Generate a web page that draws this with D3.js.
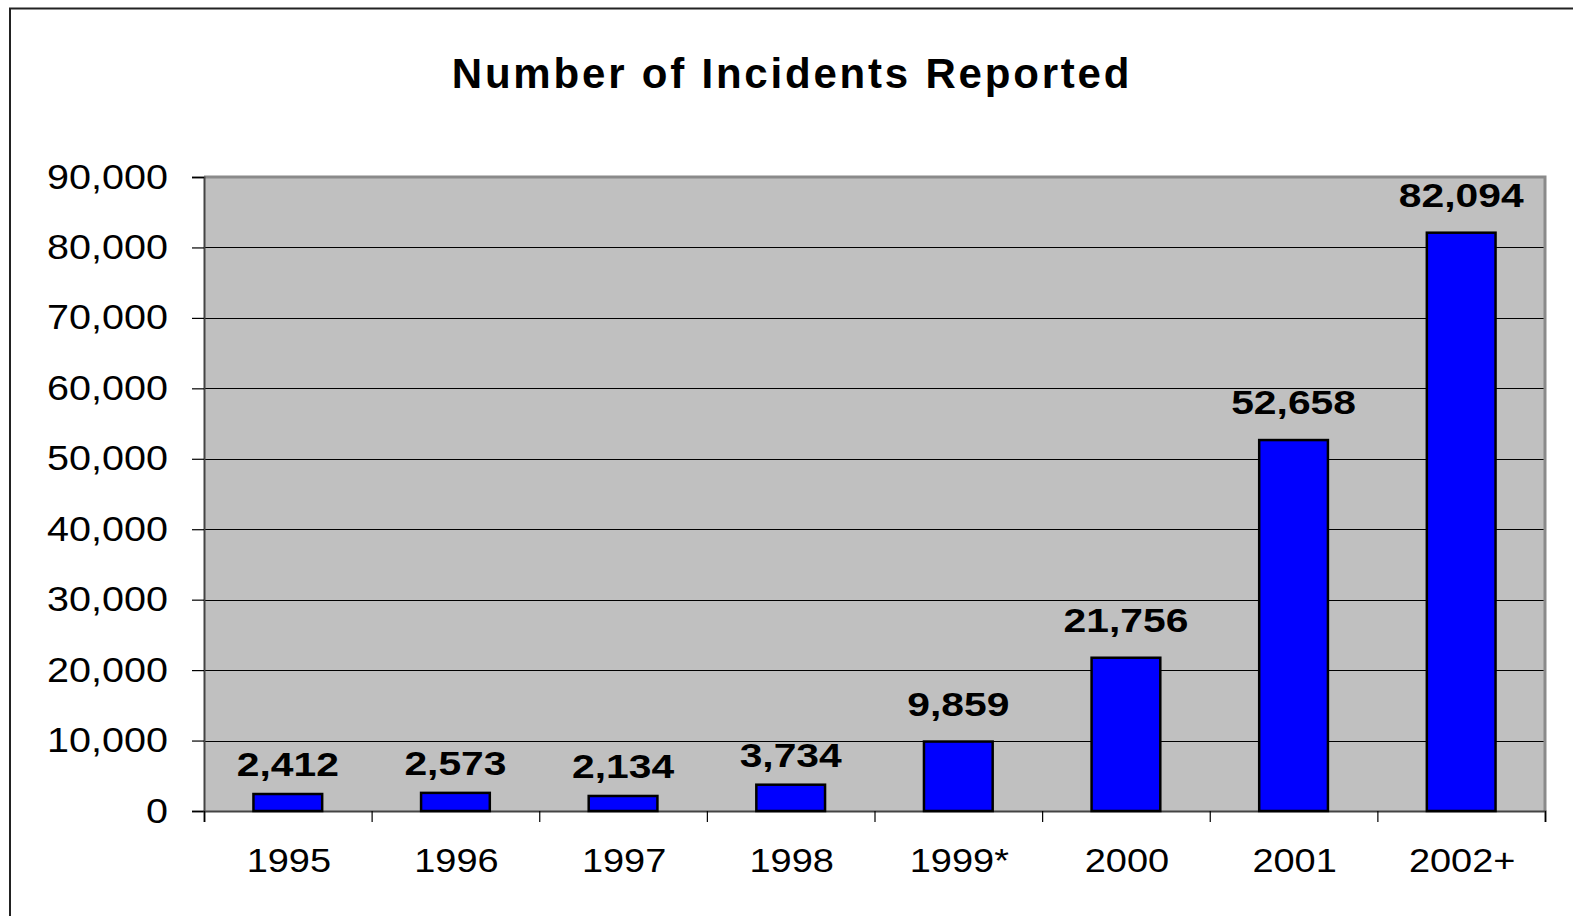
<!DOCTYPE html>
<html>
<head>
<meta charset="utf-8">
<script src="https://cdn.jsdelivr.net/npm/d3@7/dist/d3.min.js"></script>
<style>
  html, body { margin: 0; padding: 0; background: #ffffff; }
  svg { display: block; }
  text { font-family: "Liberation Sans", Arial, Helvetica, sans-serif; fill: #000; }
</style>
</head>
<body>
<svg id="chart" width="1573" height="916"></svg>
<script>
// Incidents reported per year
const years = ["1995", "1996", "1997", "1998", "1999*", "2000", "2001", "2002+"];
const incidents = [2412, 2573, 2134, 3734, 9859, 21756, 52658, 82094];
const yTicks = [0, 10000, 20000, 30000, 40000, 50000, 60000, 70000, 80000, 90000];
const chartTitle = "Number of Incidents Reported";

const W = 1573, H = 916;
const plot = { left: 204, right: 1545, top: 177, bottom: 811 };

const svg = d3.select("#chart");
const fmt = d3.format(",");

// outer frame (runs off the right and bottom edges)
svg.append("rect")
  .attr("x", 10).attr("y", 8.5)
  .attr("width", W + 20).attr("height", H + 20)
  .attr("fill", "#fff")
  .attr("stroke", "#222").attr("stroke-width", 2);

const x = d3.scaleBand()
  .domain(years)
  .range([plot.left, plot.right])
  .paddingInner(0.59)
  .paddingOuter(0.295);

const xEdge = d3.scaleLinear()
  .domain([0, years.length])
  .range([plot.left, plot.right]);

const y = d3.scaleLinear()
  .domain([0, 90000])
  .range([plot.bottom, plot.top]);

// plot background
svg.append("rect")
  .attr("x", plot.left).attr("y", plot.top)
  .attr("width", plot.right - plot.left)
  .attr("height", plot.bottom - plot.top)
  .attr("fill", "#c0c0c0");

// gridlines
svg.append("g")
  .selectAll("line")
  .data(yTicks.filter(d => d > 0 && d < 90000))
  .join("line")
  .attr("x1", plot.left).attr("x2", plot.right)
  .attr("y1", d => Math.round(y(d)) + 0.5).attr("y2", d => Math.round(y(d)) + 0.5)
  .attr("stroke", "#000").attr("stroke-width", 1);

// plot border: top and right in mid grey
svg.append("path")
  .attr("d", `M${plot.left},${plot.top} H${plot.right} V${plot.bottom}`)
  .attr("fill", "none")
  .attr("stroke", "#8a8a8a").attr("stroke-width", 3);

// horizontally stretched text helper
function label(g, tx, ty, txt, opts) {
  const t = g.append("g").attr("transform", `translate(${tx},${ty}) scale(${opts.sx},1)`);
  t.append("text")
    .attr("text-anchor", opts.anchor || "middle")
    .style("font-size", opts.size + "px")
    .style("font-weight", opts.weight || "normal")
    .style("letter-spacing", (opts.ls || 0) + "px")
    .text(txt);
  return t;
}

// y axis
const yAxis = svg.append("g").attr("transform", `translate(${plot.left},0)`)
  .call(d3.axisLeft(y).tickValues(yTicks).tickSize(12).tickFormat(() => ""));
yAxis.select(".domain").attr("stroke", "#444").attr("stroke-width", 2);
yAxis.selectAll(".tick line").attr("stroke", "#000").attr("stroke-width", 1.2);

const yLab = svg.append("g");
yTicks.forEach(v => label(yLab, 168, y(v) + 11.5, fmt(v), { sx: 1.13, size: 35, anchor: "end" }));

// x axis
const xAxis = svg.append("g").attr("transform", `translate(0,${plot.bottom})`)
  .call(d3.axisBottom(xEdge).tickValues(d3.range(years.length + 1)).tickSize(11).tickFormat(() => ""));
xAxis.select(".domain").attr("stroke", "#444").attr("stroke-width", 2);
xAxis.selectAll(".tick line").attr("stroke", "#000").attr("stroke-width", 1.2);

const xLab = svg.append("g");
years.forEach(c => label(xLab, x(c) + x.bandwidth() / 2 + 1, 871.5, c, { sx: 1.15, size: 33 }));

// bars
svg.append("g")
  .selectAll("rect")
  .data(incidents)
  .join("rect")
  .attr("x", (d, i) => x(years[i]))
  .attr("y", d => y(d))
  .attr("width", x.bandwidth())
  .attr("height", d => plot.bottom - y(d))
  .attr("fill", "#0000ff")
  .attr("stroke", "#000").attr("stroke-width", 2.5);

// value labels above the bars
const vLab = svg.append("g");
incidents.forEach((d, i) => {
  const gap = d < 5000 ? 18 : 26;
  label(vLab, x(years[i]) + x.bandwidth() / 2, y(d) - gap, fmt(d),
    { sx: 1.2, size: 34, weight: "bold" });
});

// title
label(svg, 792, 87.5, chartTitle, { sx: 1, size: 42, weight: "bold", ls: 2.8 });
</script>
</body>
</html>
